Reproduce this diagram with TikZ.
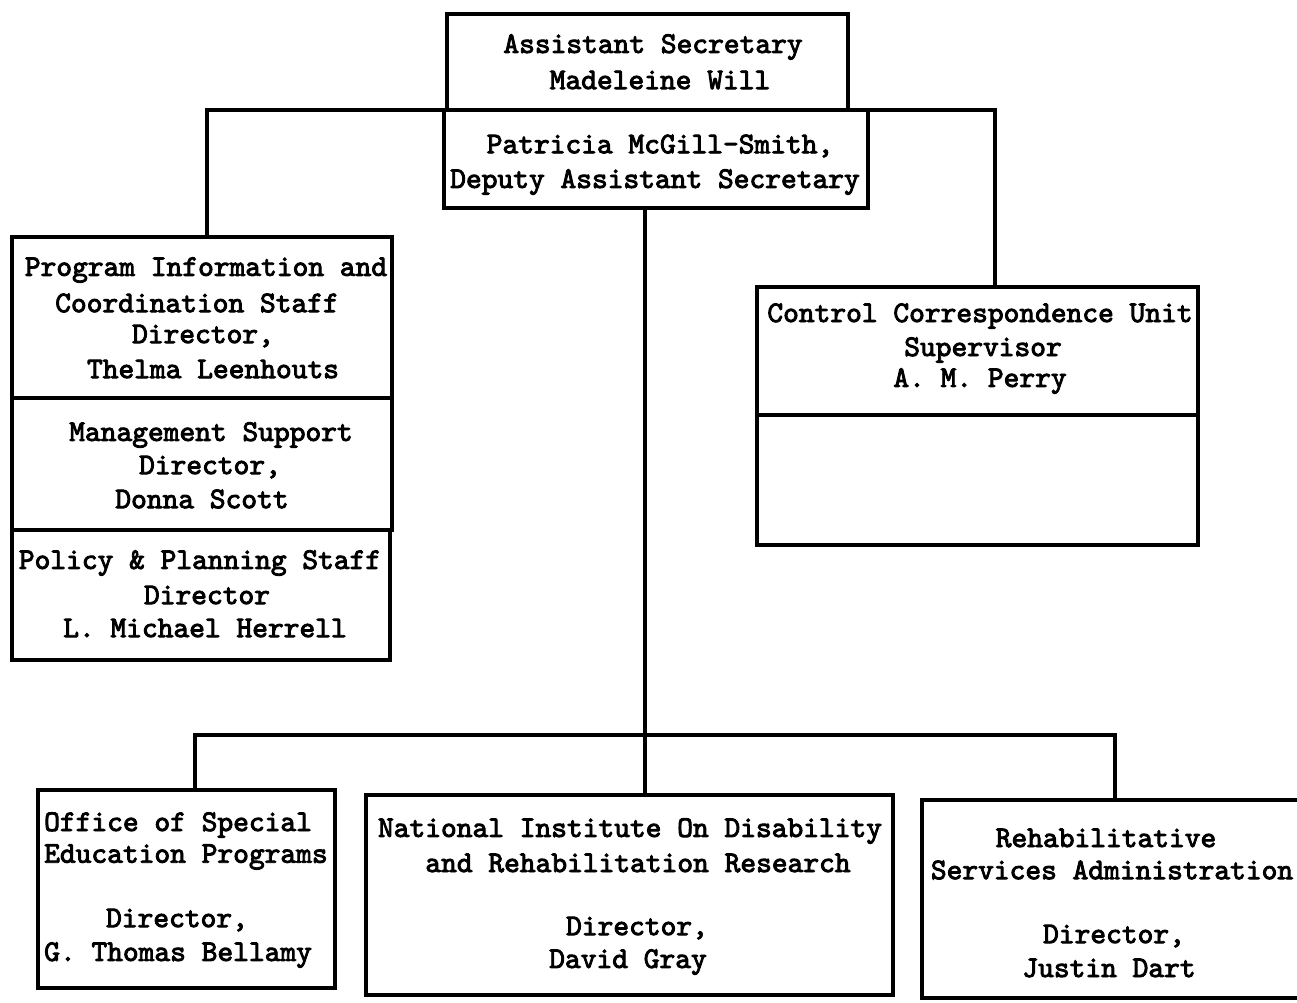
\documentclass[tikz,border=0pt]{standalone}
\usepackage{fontspec}
\newfontfamily\tw{lmmono10-regular.otf}[FakeBold=3]
\begin{document}
\begin{tikzpicture}[x=1pt,y=1pt,
  box/.style={draw,line width=3.2pt,inner sep=0pt,outer sep=0pt,anchor=north west},
  txt/.style={inner sep=0pt,font=\tw\fontsize{30}{32}\selectfont},
  wire/.style={line width=3.2pt}]
\useasboundingbox (0,0) rectangle (1297,-1002);
% boxes
\node[box,minimum width=401pt,minimum height=96pt] (asec) at (447,-14) {};
\node[box,minimum width=424pt,minimum height=98pt] (dep) at (444,-110) {};
\node[box,minimum width=380pt,minimum height=161pt] (pic) at (12,-237) {};
\node[box,minimum width=380pt,minimum height=132pt] (mgmt) at (12,-398) {};
\node[box,minimum width=378pt,minimum height=130pt] (pol) at (12,-530) {};
\node[box,minimum width=441pt,minimum height=128pt] (ccu) at (757,-287) {};
\node[box,minimum width=441pt,minimum height=130pt] (ccub) at (757,-415) {};
\node[box,minimum width=297pt,minimum height=198pt] (osep) at (38,-790) {};
\node[box,minimum width=527pt,minimum height=200pt] (nidrr) at (366,-795) {};
\node[box,minimum width=400pt,minimum height=198pt] (rsa) at (922,-800) {};
% junctions
\coordinate (jl) at (207,-110);
\coordinate (jr) at (995,-110);
\coordinate (jc) at (645,-735);
\coordinate (bl) at (195,-735);
\coordinate (br) at (1115,-735);
% connectors
\draw[wire] (jl |- pic.north) -- (jl) -- (jr) -- (jr |- ccu.north);
\draw[wire] (jc |- dep.south) -- (jc |- nidrr.north);
\draw[wire] (bl |- osep.north) -- (bl) -- (br) -- (br |- rsa.north);
% texts
\node[txt] (t1) at (653,-47) {Assistant Secretary};
\node[txt] (t2) at (660,-80) {Madeleine Will};
\node[txt] (t3) at (660,-146) {Patricia McGill-Smith,};
\node[txt] (t4) at (655,-182) {Deputy Assistant Secretary};
\node[txt] (t5) at (206,-270) {Program Information and};
\node[txt] (t6) at (197,-303) {Coordination Staff};
\node[txt] (t7) at (203,-336) {Director,};
\node[txt] (t8) at (213,-369) {Thelma Leenhouts};
\node[txt] (t9) at (211,-435) {Management Support};
\node[txt] (t10) at (210,-467) {Director,};
\node[txt] (t11) at (202,-499) {Donna Scott};
\node[txt] (t12) at (200,-563) {Policy \& Planning Staff};
\node[txt] (t13) at (207,-595) {Director};
\node[txt] (t14) at (205,-628) {L. Michael Herrell};
\node[txt] (t15) at (980,-316) {Control Correspondence Unit};
\node[txt] (t16) at (983,-350) {Supervisor};
\node[txt] (t17) at (980,-381) {A. M. Perry};
\node[txt,anchor=west] (t18) at (44,-825) {Office of Special};
\node[txt,anchor=west] (t19) at (44,-857) {Education Programs};
\node[txt] (t20) at (177,-920) {Director,};
\node[txt,anchor=west] (t21) at (44,-955) {G. Thomas Bellamy};
\node[txt] (t22) at (630,-831) {National Institute On Disability};
\node[txt] (t23) at (638,-863) {and Rehabilitation Research};
\node[txt] (t24) at (637,-928) {Director,};
\node[txt] (t25) at (628,-962) {David Gray};
\node[txt] (t26) at (1106,-838) {Rehabilitative};
\node[txt] (t27) at (1112,-870) {Services Administration};
\node[txt] (t28) at (1114,-936) {Director,};
\node[txt] (t29) at (1109,-968) {Justin Dart};
\end{tikzpicture}
\end{document}
